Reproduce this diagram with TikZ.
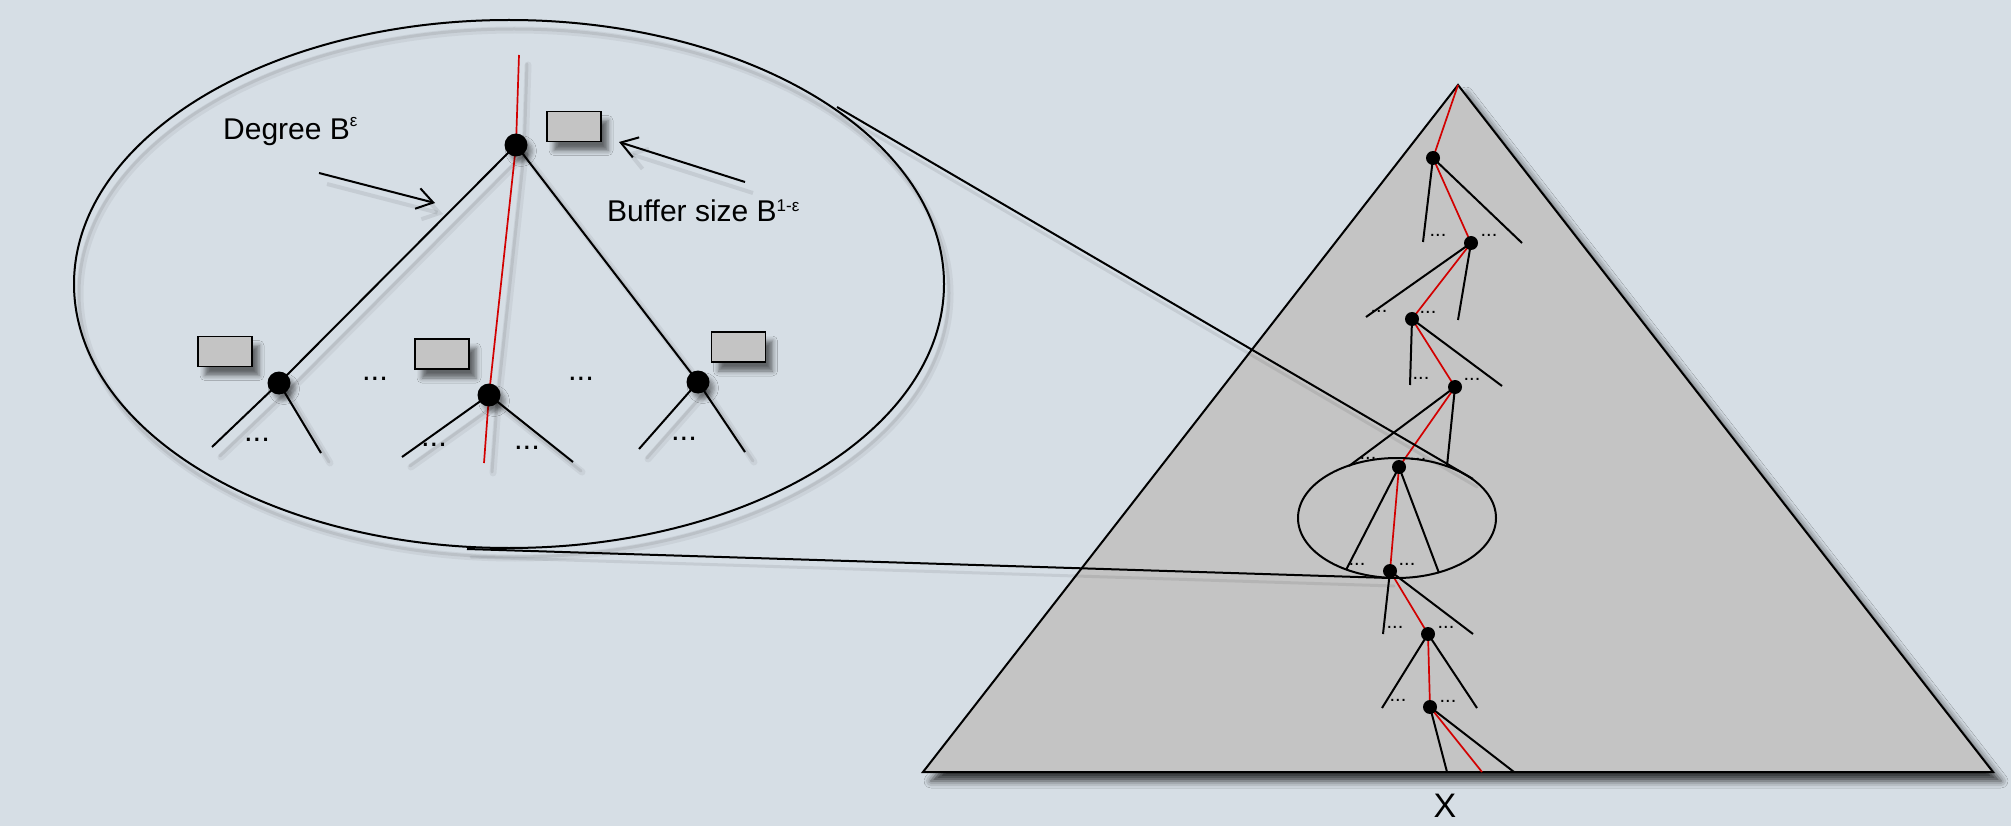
\documentclass[tikz,border=0pt]{standalone}
\usepackage{fontspec}
\setmainfont{Liberation Sans}
\usetikzlibrary{shadows.blur,arrows.meta}
\definecolor{bgc}{RGB}{214,222,229}
\definecolor{tri}{RGB}{196,196,196}
\definecolor{rl}{RGB}{210,0,0}
\newcommand{\supeps}{\raisebox{13pt}{\fontsize{17}{17}\selectfont ε}}
\newcommand{\supone}{\raisebox{10pt}{\fontsize{17}{17}\selectfont 1-ε}}
\begin{document}
\begin{tikzpicture}[x=1pt,y=-1pt,
  ln/.style={line width=2pt, black},
  redln/.style={line width=1.7pt, rl},
  shda/.style={line width=7pt, black, opacity=0.05, line cap=round},
  shdb/.style={line width=3pt, black, opacity=0.08, line cap=round},
  bigdot/.style={circle, fill=black, minimum size=23pt, inner sep=0pt,
    blur shadow={shadow xshift=5pt, shadow yshift=-6pt, shadow blur radius=4pt, shadow opacity=40}},
  smalldot/.style={circle, fill=black, minimum size=14pt, inner sep=0pt},
  buf/.style={draw=black, line width=1.8pt, fill=tri, minimum width=54pt, minimum height=30pt, inner sep=0pt,
    blur shadow={shadow xshift=7pt, shadow yshift=-9pt, shadow blur radius=5pt, shadow opacity=55}},
  lab/.style={font=\fontsize{30}{36}\selectfont, inner sep=0pt, anchor=base west},
  dots/.style={font=\fontsize{31}{36}\selectfont, inner sep=0pt, anchor=base},
  tdots/.style={font=\fontsize{20}{24}\selectfont, inner sep=0pt, anchor=base},
  arr/.style={line width=2pt, black, -{Straight Barb[length=16pt,width=21pt]}},
  arrshd/.style={line width=4pt, black, opacity=0.08, -{Straight Barb[length=16pt,width=21pt]}},
]
\fill[bgc] (0,0) rectangle (2011,826);
\useasboundingbox (0,0) rectangle (2011,826);

% ---------------- triangle ----------------
\coordinate (TA) at (1458,85);
\coordinate (TL) at (923,772);
\coordinate (TR) at (1993,772);
\path[fill=tri, blur shadow={shadow xshift=8pt, shadow yshift=-9pt, shadow blur radius=7pt, shadow opacity=75}] (TA) -- (TL) -- (TR) -- cycle;
\draw[ln, line join=miter] (TA) -- (TL) -- (TR) -- cycle;

% path nodes inside triangle
\coordinate (n1) at (1433,158);
\coordinate (n2) at (1471,243);
\coordinate (n3) at (1412,319);
\coordinate (n4) at (1455,387);
\coordinate (n5) at (1399,467);
\coordinate (n6) at (1390,571);
\coordinate (n7) at (1428,634);
\coordinate (n8) at (1430,707);
\coordinate (r8) at (1482,772);
\coordinate (a1) at (1423,242); \coordinate (b1) at (1522,243);
\coordinate (a2) at (1366,317); \coordinate (b2) at (1458,320);
\coordinate (a3) at (1410,385); \coordinate (b3) at (1502,386);
\coordinate (a4) at (1349,466); \coordinate (b4) at (1447,466);
\coordinate (a5) at (1346,570); \coordinate (b5) at (1439,573);
\coordinate (a6) at (1383,634); \coordinate (b6) at (1473,634);
\coordinate (a7) at (1382,708); \coordinate (b7) at (1477,708);
\coordinate (a8) at (1447,772); \coordinate (b8) at (1514,772);

\foreach \i in {1,...,8} {
  \draw[ln] (n\i) -- (a\i);
  \draw[ln] (n\i) -- (b\i);
}
\draw[redln] (TA) -- (n1) -- (n2) -- (n3) -- (n4) -- (n5) -- (n6) -- (n7) -- (n8) -- (r8);
\foreach \i in {1,...,8} {
  \node[smalldot] (d\i) at (n\i) {};
}
\node[tdots] (t1a) at (1438,236.5) {...};
\node[tdots] (t1b) at (1489,236.5) {...};
\node[tdots] (t2a) at (1379,312.5) {...};
\node[tdots] (t2b) at (1428,313.5) {...};
\node[tdots] (t3a) at (1421,379.5) {...};
\node[tdots] (t3b) at (1472,380.5) {...};
\node[tdots] (t4a) at (1368,459.5) {...};
\node[tdots] (t4b) at (1418,460.5) {...};
\node[tdots] (t5a) at (1357,565.5) {...};
\node[tdots] (t5b) at (1407,565.5) {...};
\node[tdots] (t6a) at (1395,628.5) {...};
\node[tdots] (t6b) at (1446,628.5) {...};
\node[tdots] (t7a) at (1398,701.5) {...};
\node[tdots] (t7b) at (1448,702.5) {...};

% small ellipse
\draw[ln] (1397,518) ellipse [x radius=99pt, y radius=60pt];

% label X
\node[font=\fontsize{34}{40}\selectfont, anchor=base, inner sep=0pt] (xl) at (1445,817) {X};

% ---------------- zoom connectors ----------------
\coordinate (U1) at (837,107);
\coordinate (U2) at (1473,479);
\coordinate (D1) at (467,549);
\coordinate (D2) at (1390,578);
\draw[shdb] ([shift={(4,8)}]U1) -- ([shift={(4,8)}]U2);
\draw[shdb] ([shift={(4,8)}]D1) -- ([shift={(4,8)}]D2);
\draw[ln] (U1) -- (U2);
\draw[ln] (D1) -- (D2);

% ---------------- big ellipse ----------------
\draw[shda] (515,294) ellipse [x radius=435pt, y radius=264pt];
\draw[shdb] (514,293) ellipse [x radius=435pt, y radius=264pt];
\draw[ln] (509,284) ellipse [x radius=435pt, y radius=264pt];

\coordinate (A) at (516,145);
\coordinate (L) at (279,383);
\coordinate (M) at (489,395);
\coordinate (R) at (698,382);
\coordinate (rt) at (519,55);
\coordinate (rb) at (484,463);
\coordinate (L1) at (212,447); \coordinate (L2) at (321,453);
\coordinate (M1) at (402,457); \coordinate (M2) at (573,462);
\coordinate (R1) at (639,449); \coordinate (R2) at (745,452);

% shadows of tree lines
\foreach \p/\q in {A/L,A/R,L/L1,L/L2,M/M1,M/M2,R/R1,R/R2,rt/A,A/M,M/rb} {
  \draw[shda] ([shift={(9,10)}]\p) -- ([shift={(9,10)}]\q);
  \draw[shdb] ([shift={(8,9)}]\p) -- ([shift={(8,9)}]\q);
}
% tree lines
\draw[ln] (A) -- (L);
\draw[ln] (A) -- (R);
\draw[ln] (L) -- (L1);
\draw[ln] (L) -- (L2);
\draw[ln] (M) -- (M1);
\draw[ln] (M) -- (M2);
\draw[ln] (R) -- (R1);
\draw[ln] (R) -- (R2);
\draw[redln] (rt) -- (A) -- (M) -- (rb);

\node[bigdot] (nA) at (A) {};
\node[bigdot] (nL) at (L) {};
\node[bigdot] (nM) at (M) {};
\node[bigdot] (nR) at (R) {};

% buffers
\node[buf] (bA) at (574,126.5) {};
\node[buf] (bL) at (225,351.5) {};
\node[buf] (bM) at (442,354) {};
\node[buf] (bR) at (738.5,347) {};

% dots
\node[dots] (dl) at (257,441) {...};
\node[dots] (dm1) at (434,446) {...};
\node[dots] (dm2) at (527,449) {...};
\node[dots] (dr) at (684,440) {...};
\node[dots] (dg1) at (375,381) {...};
\node[dots] (dg2) at (581,381) {...};

% labels
\node[lab] (deg) at (223,140) {Degree B\supeps};
\node[lab] (bufl) at (607,222) {Buffer size B\supone};

% arrows
\coordinate (dg0) at (319,173); \coordinate (dg1) at (435,203);
\coordinate (bf0) at (745,182); \coordinate (bf1) at (619,142);
\draw[arrshd] ([shift={(8,11)}]dg0) -- ([shift={(8,11)}]dg1);
\draw[arrshd] ([shift={(8,11)}]bf0) -- ([shift={(8,11)}]bf1);
\draw[arr] (dg0) -- (dg1);
\draw[arr] (bf0) -- (bf1);
\end{tikzpicture}
\end{document}
